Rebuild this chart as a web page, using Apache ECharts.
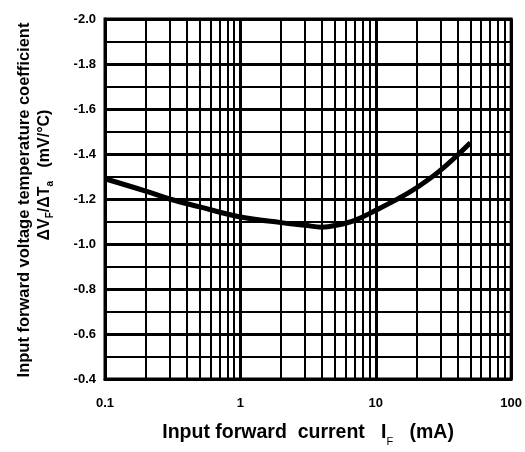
<!DOCTYPE html>
<html>
<head>
<meta charset="utf-8">
<script src="https://cdn.jsdelivr.net/npm/echarts@6/dist/echarts.min.js"></script>
<style>
html,body{margin:0;padding:0;background:#fff;}
#c{width:525px;height:452px;}
</style>
</head>
<body>
<div id="c"></div>
<script>
// Data
var currentMA = [0.1, 0.2, 0.3, 0.5, 1, 2, 3, 4, 5, 7, 10, 15, 20, 30, 50];
var tempCoef  = [-1.29, -1.235, -1.20, -1.165, -1.12, -1.095, -1.083, -1.075, -1.082, -1.105, -1.15, -1.205, -1.25, -1.327, -1.45];
var yTickLabels = ['-2.0','-1.8','-1.6','-1.4','-1.2','-1.0','-0.8','-0.6','-0.4'];
var xTickLabels = ['0.1','1','10','100'];
var decades = [0.1, 1, 10];
var minorMultipliers = [2,3,4,5,6,7,8,9];

var minorX = [];
decades.forEach(function(d){ minorMultipliers.forEach(function(m){ minorX.push(+(d*m).toPrecision(3)); }); });

var FONT = 'Liberation Sans, Arial, sans-serif';
var chart = echarts.init(document.getElementById('c'));
chart.setOption({
  animation: false,
  backgroundColor: '#fff',
  grid: {left: 105, right: 13, top: 19, bottom: 68, show: true, borderColor: '#000', borderWidth: 3, backgroundColor: 'transparent'},
  xAxis: {
    type: 'log', logBase: 10, min: 0.1, max: 100,
    axisLine: {show: true, lineStyle: {color: '#000', width: 3}},
    axisTick: {show: false},
    axisLabel: {color: '#000', fontFamily: FONT, fontWeight: 'bold', fontSize: 13, margin: 18,
      formatter: function(v){ var s = String(+v.toPrecision(3)); return xTickLabels.indexOf(s) >= 0 ? s : ''; }},
    splitLine: {show: true, lineStyle: {color: '#000', width: 3}},
    name: '{t|Input forward  current   I}{s|F}{t|   (mA)}',
    nameLocation: 'middle', nameGap: 42,
    nameTextStyle: {rich: {
      t: {fontFamily: FONT, fontWeight: 'bold', fontSize: 19.5, color: '#000', lineHeight: 22, verticalAlign: 'bottom'},
      s: {fontFamily: FONT, fontSize: 11, color: '#000', lineHeight: 14, verticalAlign: 'bottom', padding: [0,0,-4,0]}
    }}
  },
  yAxis: {
    type: 'value', min: -2.0, max: -0.4, interval: 0.2, inverse: true,
    axisLine: {show: true, lineStyle: {color: '#000', width: 3}},
    axisTick: {show: false},
    minorTick: {show: false, splitNumber: 2},
    axisLabel: {color: '#000', fontFamily: FONT, fontWeight: 'bold', fontSize: 13, margin: 9,
      formatter: function(v){ return v.toFixed(1); }},
    splitLine: {show: true, lineStyle: {color: '#000', width: 3}},
    minorSplitLine: {show: true, lineStyle: {color: '#000', width: 2}}
  },
  graphic: [
    {type: 'text', x: 24, y: 200, rotation: Math.PI/2,
      style: {text: 'Input forward voltage temperature coefficient', fill: '#000', font: 'bold 16.5px ' + FONT, align: 'center', verticalAlign: 'middle'}},
    {type: 'text', x: 43, y: 175, rotation: Math.PI/2,
      style: {text: '{t|ΔV}{s|F}{t|/ΔT}{s|a}{t|   (mV/°C)}', align: 'center', verticalAlign: 'middle',
        rich: {
          t: {fill: '#000', font: 'bold 16px ' + FONT, lineHeight: 19, verticalAlign: 'bottom'},
          s: {fill: '#000', font: 'bold 10px ' + FONT, lineHeight: 12, verticalAlign: 'bottom', padding: [0,0,-3,0]}
        }}}
  ],
  series: [
    {type: 'line', data: [], silent: true, z: 1,
      markLine: {silent: true, symbol: 'none', label: {show: false}, animation: false,
        lineStyle: {color: '#000', width: 2, type: 'solid'},
        data: minorX.map(function(v){ return {xAxis: v}; })}},
    {type: 'line', z: 10, showSymbol: false, symbol: 'none', smooth: 0.4,
      lineStyle: {color: '#000', width: 5},
      data: currentMA.map(function(x, i){ return [x, tempCoef[i]]; })}
  ]
});
</script>
</body>
</html>
